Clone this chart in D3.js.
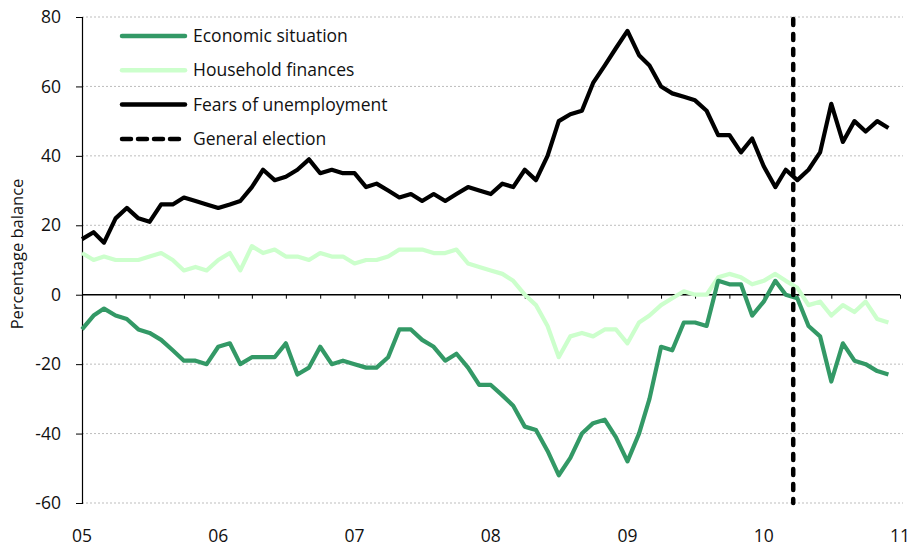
<!DOCTYPE html>
<html>
<head>
<meta charset="utf-8">
<script src="https://cdn.jsdelivr.net/npm/d3@7/dist/d3.min.js"></script>
<style>
  html, body { margin: 0; padding: 0; background: #fff; }
  text { font-family: "Open Sans", "Noto Sans", sans-serif; fill: #111; }
</style>
</head>
<body>
<svg id="chart" width="910" height="546"></svg>
<script>
// Monthly data, Jan 2005 - Dec 2010 (percentage balance)
const startYear = 2005;
const economicSituation = [-10,-6,-4,-6,-7,-10,-11,-13,-16,-19,-19,-20,
  -15,-14,-20,-18,-18,-18,-14,-23,-21,-15,-20,-19,
  -20,-21,-21,-18,-10,-10,-13,-15,-19,-17,-21,-26,
  -26,-29,-32,-38,-39,-45,-52,-47,-40,-37,-36,-41,
  -48,-40,-30,-15,-16,-8,-8,-9,4,3,3,-6,
  -2,4,0,-1,-9,-12,-25,-14,-19,-20,-22,-23];
const householdFinances = [12,10,11,10,10,10,11,12,10,7,8,7,
  10,12,7,14,12,13,11,11,10,12,11,11,
  9,10,10,11,13,13,13,12,12,13,9,8,
  7,6,4,0,-3,-9,-18,-12,-11,-12,-10,-10,
  -14,-8,-6,-3,-1,1,0,0,5,6,5,3,
  4,6,4,2,-3,-2,-6,-3,-5,-2,-7,-8];
const fearsOfUnemployment = [16,18,15,22,25,22,21,26,26,28,27,26,
  25,26,27,31,36,33,34,36,39,35,36,35,
  35,31,32,30,28,29,27,29,27,29,31,30,
  29,32,31,36,33,40,50,52,53,61,66,71,
  76,69,66,60,58,57,56,53,46,46,41,45,
  37,31,36,33,36,41,55,44,50,47,50,48];
const electionDate = new Date(2010, 2, 21);
const yearTickLabels = ["05","06","07","08","09","10","11"];
const yTicks = [80,60,40,20,0,-20,-40,-60];
const seriesNames = ["Economic situation","Household finances","Fears of unemployment","General election"];

(function () {
const svg = d3.select("#chart");
const mLeft = 82, mRight = 900, mTop = 17, mBottom = 503;

const dates = economicSituation.map((_, i) => new Date(startYear, i, 1));
const x = d3.scaleTime()
  .domain([new Date(startYear, 0, 1), new Date(startYear + 6, 0, 1)])
  .range([mLeft, mRight]);
const y = d3.scaleLinear().domain([-60, 80]).range([mBottom, mTop]);

// gridlines
svg.append("g").selectAll("line")
  .data(yTicks.filter(d => d !== 0))
  .join("line")
  .attr("x1", mLeft).attr("x2", mRight + 3)
  .attr("y1", d => y(d)).attr("y2", d => y(d))
  .attr("stroke", "#bdbdbd").attr("stroke-width", 1)
  .attr("stroke-dasharray", "2,2");

// y axis
const yAxis = svg.append("g").attr("transform", `translate(${mLeft},0)`)
  .call(d3.axisLeft(y).tickValues(yTicks).tickSize(6).tickPadding(15).tickFormat(d => String(d)));
yAxis.select(".domain").attr("stroke", "#000").attr("stroke-width", 1.2);
yAxis.selectAll(".tick line").attr("stroke", "#000");
yAxis.selectAll(".tick text").attr("font-size", 17.5).attr("font-family", '"Open Sans", sans-serif').attr("fill", "#111");

// x axis on zero line with quarterly ticks
const quarterTicks = d3.range(0, 25).map(q => new Date(startYear, q * 3, 1));
const xAxis = svg.append("g").attr("transform", `translate(0,${y(0)})`)
  .call(d3.axisBottom(x).tickValues(quarterTicks).tickSize(4).tickFormat(""));
xAxis.select(".domain").attr("stroke", "#000").attr("stroke-width", 1.5).attr("d", `M${mLeft},0H${mRight}`);
xAxis.selectAll(".tick line").attr("stroke", "#000");

// year labels at bottom
svg.append("g").selectAll("text")
  .data(yearTickLabels)
  .join("text")
  .attr("x", (d, i) => x(new Date(startYear + i, 0, 1)))
  .attr("y", 542)
  .attr("text-anchor", "middle")
  .attr("font-size", 17.5)
  .text(d => d);

// y label
svg.append("text")
  .attr("transform", `translate(23,${(178 + 330) / 2}) rotate(-90)`)
  .attr("text-anchor", "middle")
  .attr("font-size", 16.5)
  .text("Percentage balance");

const line = d3.line().x((d, i) => x(dates[i])).y(d => y(d)).curve(d3.curveLinear);

const series = [
  { data: householdFinances, color: "#ccffcc" },
  { data: economicSituation, color: "#339966" },
  { data: fearsOfUnemployment, color: "#000000" }
];
svg.append("g").selectAll("path")
  .data(series)
  .join("path")
  .attr("d", d => line(d.data))
  .attr("fill", "none")
  .attr("stroke", d => d.color)
  .attr("stroke-width", 4.2)
  .attr("stroke-linejoin", "round");

// election line
svg.append("line")
  .attr("x1", x(electionDate)).attr("x2", x(electionDate))
  .attr("y1", mTop + 2).attr("y2", mBottom)
  .attr("stroke", "#000").attr("stroke-width", 4.5)
  .attr("stroke-linecap", "round")
  .attr("stroke-dasharray", "6,9");

// legend
const legend = [
  { name: seriesNames[0], color: "#339966", dash: null },
  { name: seriesNames[1], color: "#ccffcc", dash: null },
  { name: seriesNames[2], color: "#000000", dash: null },
  { name: seriesNames[3], color: "#000000", dash: "9,7" }
];
const lg = svg.append("g").selectAll("g").data(legend).join("g")
  .attr("transform", (d, i) => `translate(0,${36 + i * 34.3})`);
lg.append("line")
  .attr("x1", 122).attr("x2", 185)
  .attr("y1", 0).attr("y2", 0)
  .attr("stroke", d => d.color).attr("stroke-width", 4.5)
  .attr("stroke-linecap", "round")
  .attr("stroke-dasharray", d => d.dash);
lg.append("text")
  .attr("x", 193).attr("y", 0).attr("dy", "0.35em")
  .attr("font-size", 17.5)
  .text(d => d.name);
})();
</script>
</body>
</html>
